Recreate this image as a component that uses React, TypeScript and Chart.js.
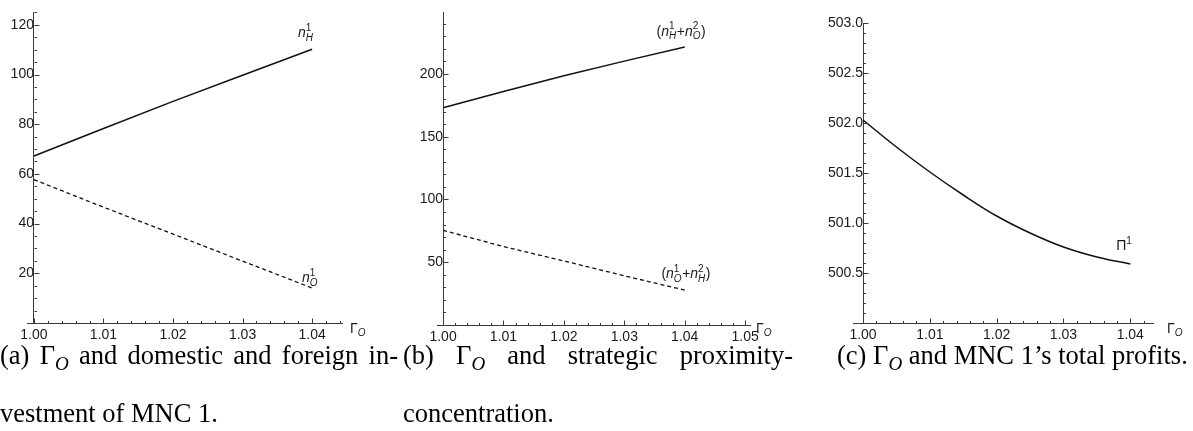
import React, { useEffect, useRef } from 'react';
import { Chart, registerables } from 'chart.js';

Chart.register(...registerables);

// ---------- Panel (a): Γ_O vs domestic and foreign investment of MNC 1 ----------
const A_X = [1.0, 1.01, 1.02, 1.03, 1.04];
const A_N_H1 = [67.2, 78.3, 89.2, 99.7, 110.2];
const A_N_O1 = [57.7, 46.6, 35.8, 24.9, 14.1];
const A_X_TICKS = [1.0, 1.01, 1.02, 1.03, 1.04];
const A_Y_TICKS = [20, 40, 60, 80, 100, 120];

// ---------- Panel (b): Γ_O vs strategic proximity-concentration ----------
const B_X = [1.0, 1.01, 1.02, 1.03, 1.04];
const B_SUM_HO = [173.0, 186.0, 198.5, 210.2, 221.4];
const B_SUM_OH = [75.4, 62.5, 51.0, 39.2, 27.8];
const B_X_TICKS = [1.0, 1.01, 1.02, 1.03, 1.04, 1.05];
const B_Y_TICKS = [50, 100, 150, 200];

// ---------- Panel (c): Γ_O vs MNC 1's total profits ----------
const C_X = [1.0, 1.005, 1.01, 1.015, 1.02, 1.025, 1.03, 1.035, 1.04];
const C_PROFIT = [502.03, 501.76, 501.51, 501.28, 501.07, 500.9, 500.76, 500.66, 500.59];
const C_X_TICKS = [1.0, 1.01, 1.02, 1.03, 1.04];
const C_Y_TICKS = [500.5, 501.0, 501.5, 502.0, 502.5, 503.0];

type Token = { t?: string; it?: boolean; sup?: string; sub?: string };

const LABEL_NH1: Token[] = [{ t: 'n', it: true }, { sup: '1', sub: 'H' }];
const LABEL_NO1: Token[] = [{ t: 'n', it: true }, { sup: '1', sub: 'O' }];
const LABEL_SUM_HO: Token[] = [
  { t: '(' }, { t: 'n', it: true }, { sup: '1', sub: 'H' }, { t: '+' },
  { t: 'n', it: true }, { sup: '2', sub: 'O' }, { t: ')' },
];
const LABEL_SUM_OH: Token[] = [
  { t: '(' }, { t: 'n', it: true }, { sup: '1', sub: 'O' }, { t: '+' },
  { t: 'n', it: true }, { sup: '2', sub: 'H' }, { t: ')' },
];
const LABEL_PI1: Token[] = [{ t: 'Π' }, { sup: '1' }];
const LABEL_GAMMA: Token[] = [{ t: 'Γ' }, { sub: 'O' }];

const SANS = '"Liberation Sans", Arial, Helvetica, sans-serif';
const SERIF = '"Liberation Serif", "Times New Roman", serif';
const AXIS_COLOR = '#3a3a3a';
const TEXT_COLOR = '#1a1a1a';
const LINE_COLOR = '#111111';

type Series = { xs: number[]; ys: number[]; dashed?: boolean; smooth?: boolean };
type Note = { x: number; y: number; tokens: Token[] };
type Panel = {
  left: number; width: number; height: number;
  padding: { left: number; top: number; right: number; bottom: number };
  xMin: number; xMax: number; yMin: number; yMax: number; originX: number;
  xTicks: number[]; yTicks: number[]; xMinor: number; yMinor: number; yDecimals: number;
  series: Series[]; notes: Note[]; gammaGap: number; gammaDy: number;
};

const PANELS: Panel[] = [
  {
    left: 0, width: 400, height: 345,
    padding: { left: 27, top: 7, right: 58, bottom: 22 },
    xMin: 0.999, xMax: 1.0443, yMin: 0, yMax: 125, originX: 1.0,
    xTicks: A_X_TICKS, yTicks: A_Y_TICKS, xMinor: 0.002, yMinor: 5, yDecimals: 0,
    series: [
      { xs: A_X, ys: A_N_H1 },
      { xs: A_X, ys: A_N_O1, dashed: true },
    ],
    notes: [
      { x: 1.0391, y: 117.0, tokens: LABEL_NH1 },
      { x: 1.0397, y: 18.4, tokens: LABEL_NO1 },
    ],
    gammaGap: 16, gammaDy: 4,
  },
  {
    left: 400, width: 400, height: 345,
    padding: { left: 37, top: 10, right: 50, bottom: 20 },
    xMin: 0.999, xMax: 1.0508, yMin: 0, yMax: 249, originX: 1.0,
    xTicks: B_X_TICKS, yTicks: B_Y_TICKS, xMinor: 0.002, yMinor: 10, yDecimals: 0,
    series: [
      { xs: B_X, ys: B_SUM_HO },
      { xs: B_X, ys: B_SUM_OH, dashed: true },
    ],
    notes: [
      { x: 1.0394, y: 234.6, tokens: LABEL_SUM_HO },
      { x: 1.0402, y: 41.5, tokens: LABEL_SUM_OH },
    ],
    gammaGap: 14, gammaDy: 2,
  },
  {
    left: 800, width: 393, height: 345,
    padding: { left: 53, top: 23, right: 40, bottom: 22 },
    xMin: 0.9985, xMax: 1.0434, yMin: 500, yMax: 503, originX: 1.0,
    xTicks: C_X_TICKS, yTicks: C_Y_TICKS, xMinor: 0.002, yMinor: 0.1, yDecimals: 1,
    series: [{ xs: C_X, ys: C_PROFIT, smooth: true }],
    notes: [{ x: 1.0391, y: 500.78, tokens: LABEL_PI1 }],
    gammaGap: 22, gammaDy: 4,
  },
];

function drawTokens(ctx: CanvasRenderingContext2D, tokens: Token[], cx: number, cy: number, base = 13) {
  const small = Math.round(base * 0.72);
  const fontOf = (size: number, it?: boolean) => `${it ? 'italic ' : ''}${size}px ${SANS}`;
  const widths = tokens.map((tk) => {
    if (tk.t !== undefined) {
      ctx.font = fontOf(base, tk.it);
      return ctx.measureText(tk.t).width;
    }
    let w = 0;
    if (tk.sup) { ctx.font = fontOf(small, false); w = Math.max(w, ctx.measureText(tk.sup).width); }
    if (tk.sub) { ctx.font = fontOf(small, true); w = Math.max(w, ctx.measureText(tk.sub).width); }
    return w + 0.5;
  });
  const total = widths.reduce((a, b) => a + b, 0);
  let x = cx - total / 2;
  const baseY = cy + base * 0.36;
  ctx.fillStyle = TEXT_COLOR;
  ctx.textAlign = 'left';
  ctx.textBaseline = 'alphabetic';
  tokens.forEach((tk, i) => {
    if (tk.t !== undefined) {
      ctx.font = fontOf(base, tk.it);
      ctx.fillText(tk.t, x, baseY);
    } else {
      if (tk.sup) { ctx.font = fontOf(small, false); ctx.fillText(tk.sup, x, baseY - base * 0.45); }
      if (tk.sub) { ctx.font = fontOf(small, true); ctx.fillText(tk.sub, x, baseY + base * 0.28); }
    }
    x += widths[i];
  });
}

function minorValues(min: number, max: number, step: number, majors: number[], skip: number) {
  const out: number[] = [];
  const k0 = Math.ceil(min / step - 1e-6);
  const k1 = Math.floor(max / step + 1e-6);
  for (let k = k0; k <= k1; k++) {
    const v = k * step;
    if (Math.abs(v - skip) < step * 1e-3) continue;
    if (majors.some((m) => Math.abs(m - v) < step * 1e-3)) continue;
    out.push(v);
  }
  return out;
}

function makeDecor(p: Panel) {
  return {
    id: 'decor' + p.left,
    afterDraw(chart: any) {
      const ctx: CanvasRenderingContext2D = chart.ctx;
      const xs = chart.scales.x;
      const ys = chart.scales.y;
      const axisY = Math.round(ys.getPixelForValue(p.yMin)) + 0.5;
      const axisX = Math.round(xs.getPixelForValue(p.originX)) + 0.5;
      ctx.save();
      ctx.strokeStyle = AXIS_COLOR;
      ctx.lineWidth = 1;
      ctx.beginPath();
      p.xTicks.forEach((v) => {
        const px = Math.round(xs.getPixelForValue(v)) + 0.5;
        ctx.moveTo(px, axisY); ctx.lineTo(px, axisY - 5);
      });
      minorValues(p.xMin, p.xMax, p.xMinor, p.xTicks, p.originX).forEach((v) => {
        const px = Math.round(xs.getPixelForValue(v)) + 0.5;
        ctx.moveTo(px, axisY); ctx.lineTo(px, axisY - 2.5);
      });
      p.yTicks.forEach((v) => {
        const py = Math.round(ys.getPixelForValue(v)) + 0.5;
        ctx.moveTo(axisX, py); ctx.lineTo(axisX + 5, py);
      });
      minorValues(p.yMin, p.yMax, p.yMinor, p.yTicks, p.yMin).forEach((v) => {
        const py = Math.round(ys.getPixelForValue(v)) + 0.5;
        ctx.moveTo(axisX, py); ctx.lineTo(axisX + 2.5, py);
      });
      ctx.stroke();
      p.notes.forEach((n) => {
        drawTokens(ctx, n.tokens, xs.getPixelForValue(n.x), ys.getPixelForValue(n.y), 14);
      });
      drawTokens(ctx, LABEL_GAMMA, chart.chartArea.right + p.gammaGap, axisY + p.gammaDy, 14);
      ctx.restore();
    },
  };
}

function PanelChart({ p }: { p: Panel }) {
  const ref = useRef<HTMLCanvasElement | null>(null);
  useEffect(() => {
    if (!ref.current) return;
    const tickFont = { family: SANS, size: 14 };
    const chart = new Chart(ref.current, {
      type: 'line',
      data: {
        datasets: p.series.map((s) => ({
          data: s.xs.map((x, i) => ({ x, y: s.ys[i] })),
          borderColor: LINE_COLOR,
          borderWidth: s.dashed ? 1.3 : 1.5,
          borderDash: s.dashed ? [4, 3] : [],
          pointRadius: 0,
          fill: false,
          tension: s.smooth ? 0.4 : 0,
          cubicInterpolationMode: 'default',
        })),
      },
      options: {
        animation: false,
        responsive: false,
        maintainAspectRatio: false,
        devicePixelRatio: 1,
        layout: { padding: p.padding },
        plugins: { legend: { display: false }, tooltip: { enabled: false } },
        events: [],
        scales: {
          x: {
            type: 'linear',
            min: p.xMin,
            max: p.xMax,
            position: { y: p.yMin },
            grid: { display: false, drawTicks: false },
            border: { display: true, color: AXIS_COLOR, width: 1 },
            afterBuildTicks: (scale: any) => { scale.ticks = p.xTicks.map((v) => ({ value: v })); },
            ticks: {
              font: tickFont,
              color: TEXT_COLOR,
              padding: 4,
              maxRotation: 0,
              autoSkip: false,
              callback: (v: any) => Number(v).toFixed(2),
            },
          },
          y: {
            type: 'linear',
            min: p.yMin,
            max: p.yMax,
            position: { x: p.originX },
            grid: { display: false, drawTicks: false },
            border: { display: true, color: AXIS_COLOR, width: 1 },
            afterBuildTicks: (scale: any) => { scale.ticks = p.yTicks.map((v) => ({ value: v })); },
            ticks: {
              font: tickFont,
              color: TEXT_COLOR,
              padding: 4,
              autoSkip: false,
              callback: (v: any) => Number(v).toFixed(p.yDecimals),
            },
          },
        },
      } as any,
      plugins: [makeDecor(p)],
    });
    return () => chart.destroy();
  }, [p]);
  return (
    <canvas
      ref={ref}
      width={p.width}
      height={p.height}
      style={{ position: 'absolute', left: p.left, top: 0, width: p.width, height: p.height }}
    />
  );
}

const G = () => (
  <span>
    Γ<span style={{ fontStyle: 'italic', fontSize: '0.72em', position: 'relative', top: '0.3em' }}>O</span>
  </span>
);

const capLine = (left: number, top: number, width: number | undefined, justify: boolean): React.CSSProperties => ({
  position: 'absolute',
  left,
  top,
  width,
  whiteSpace: 'nowrap',
  textAlign: justify ? 'justify' : 'left',
  textAlignLast: justify ? 'justify' : 'left',
  fontFamily: SERIF,
  fontSize: 26.5,
  lineHeight: '30px',
  color: '#000',
} as React.CSSProperties);

export default function App() {
  return (
    <div style={{ position: 'absolute', left: 0, top: 0, width: 1193, height: 431, background: '#fff', overflow: 'hidden' }}>
      {PANELS.map((p) => (
        <PanelChart key={p.left} p={p} />
      ))}
      <div style={{ ...capLine(0, 340, 398, true), whiteSpace: 'normal' }}>
        (a) <G /> and domestic and foreign in-
      </div>
      <div style={capLine(0, 398, undefined, false)}>vestment of MNC 1.</div>
      <div style={{ ...capLine(403, 340, 390, true), whiteSpace: 'normal' }}>
        (b) <G /> and strategic proximity-
      </div>
      <div style={capLine(403, 398, undefined, false)}>concentration.</div>
      <div style={capLine(837, 340, undefined, false)}>
        (c) <G /> and MNC 1’s total profits.
      </div>
    </div>
  );
}
